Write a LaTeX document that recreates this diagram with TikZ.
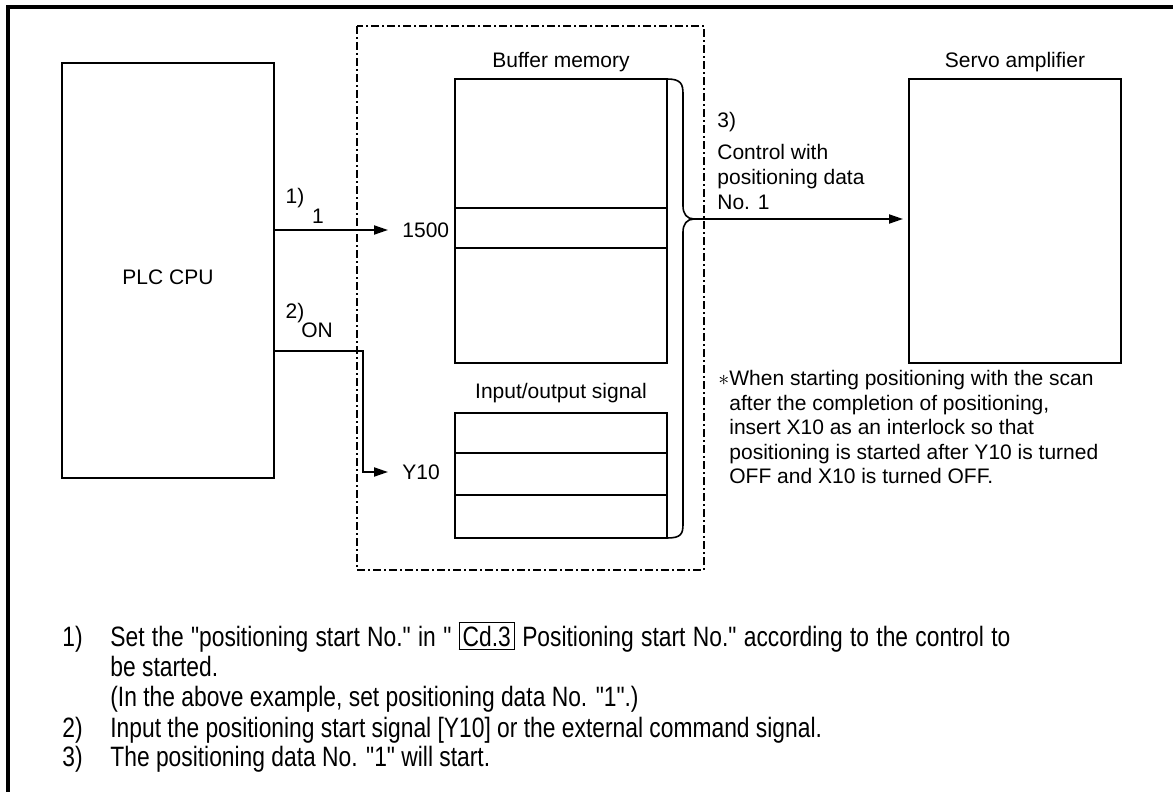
\documentclass[tikz,border=0pt]{standalone}
\usepackage{fontspec}
\setmainfont{Liberation Sans}
\newfontfamily\narrowfont[FakeStretch=0.815]{Liberation Sans}
\usetikzlibrary{arrows.meta, positioning}

\begin{document}
\begin{tikzpicture}[x=0.5pt, y=-0.5pt, >={Triangle[length=7pt, width=4.5pt]},
  box/.style={draw, line width=0.75pt, inner sep=0pt, outer sep=0pt, minimum width=106pt},
  lbl/.style={font=\fontsize{10.5}{12.5}\selectfont, inner sep=0pt},
  wire/.style={line width=1pt},
  dashdot/.style={line width=1pt, dash pattern=on 4pt off 1.5pt on 1pt off 1.5pt},
  para/.style={font=\narrowfont\fontsize{14}{15}\selectfont, inner sep=0pt, anchor=base west}]
  \useasboundingbox (0,0) rectangle (1173,792);

  % Frame
  \draw[line width=2pt] (8,792) -- (8,7) -- (1173,7);

  % Module outline
  \draw[dashdot] (357,26) rectangle (704,570);

  % Blocks
  \node[box, minimum height=207.5pt] (plc) at (168,270.5) {};
  \node[lbl] (plctext) at (168,277) {PLC CPU};
  \node[box, minimum height=142pt] (buf) at (561,221) {};
  \node[lbl] (buftext) at (561,62) {Buffer memory};
  \node[box, minimum height=62.5pt] (io) at (561,475.5) {};
  \node[lbl] (iotext) at (561,393) {Input/output signal};
  \node[box, minimum height=142pt] (servo) at (1015,221) {};
  \node[lbl] (servotext) at (1015,62) {Servo amplifier};

  % Rows
  \draw[wire] (455,208) -- (667,208);
  \draw[wire] (455,248) -- (667,248);
  \draw[wire] (455,453) -- (667,453);
  \draw[wire] (455,495) -- (667,495);

  % Start No. write
  \node[lbl, anchor=west, inner xsep=7pt] (n1500) at (388,230) {1500};
  \node[lbl] (s1) at (295,198) {1)};
  \node[lbl] (v1) at (318,216) {1};
  \draw[wire, ->] (plc.east |- n1500) -- (n1500.west);

  % Start signal
  \node[lbl, anchor=west, inner xsep=7pt] (y10) at (388,472) {Y10};
  \node[lbl] (s2) at (295,313) {2)};
  \node[lbl] (v2) at (317,330) {ON};
  \coordinate (onbend) at (363,351);
  \draw[wire, ->] (plc.east |- onbend) -- (onbend) |- (y10.west);

  % Brace and output
  \coordinate (bracetip) at (694,219);
  \draw[line width=0.8pt] (buf.north east) .. controls (681,79) and (683,84) .. (683,94)
    -- (683,206) .. controls (683,214) and (687,219) .. (bracetip)
    .. controls (687,219) and (683,224) .. (683,232)
    -- (683,524) .. controls (683,534) and (681,538) .. (io.south east);
  \draw[wire, ->, shorten >=3pt] (bracetip) -- (servo.west |- bracetip);
  \node[lbl, anchor=west] (s3) at (717,122) {3)};
  \node[lbl, anchor=north west, align=left] (ctrl) at (717,144)
    {Control with\\positioning data\\No. 1};

  % Note
  \node[lbl, anchor=north west, align=left, font=\fontsize{10.5}{12.25}\selectfont] (note) at (729,370)
    {\llap{$\ast$}When starting positioning with the scan\\
     after the completion of positioning,\\
     insert X10 as an interlock so that\\
     positioning is started after Y10 is turned\\
     OFF and X10 is turned OFF.};

  % Explanation
  \setlength{\fboxsep}{1.5pt}
  \setlength{\fboxrule}{0.5pt}
  \node[para] (p1n) at (62,646) {1)};
  \node[para] (p1) at (110,646) {\makebox[450pt][s]{Set the "positioning start No." in " \fbox{Cd.3} Positioning start No." according to the control to}};
  \node[para] (p1b) at (110,676) {be started.};
  \node[para] (p1c) at (110,706) {(In the above example, set positioning data No. "1".)};
  \node[para] (p2n) at (62,737) {2)};
  \node[para] (p2) at (110,737) {Input the positioning start signal [Y10] or the external command signal.};
  \node[para] (p3n) at (62,766) {3)};
  \node[para] (p3) at (110,766) {The positioning data No. "1" will start.};
\end{tikzpicture}
\end{document}
